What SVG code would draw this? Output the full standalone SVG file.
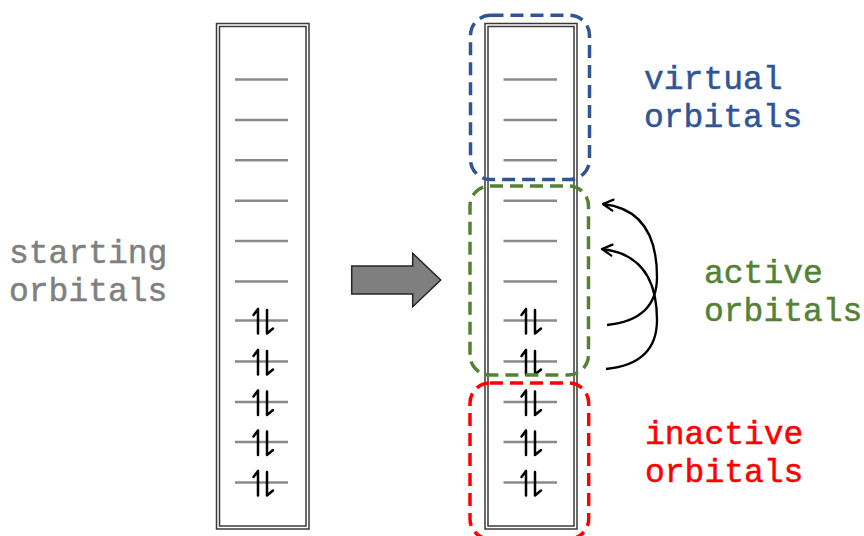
<svg xmlns="http://www.w3.org/2000/svg" xmlns:xlink="http://www.w3.org/1999/xlink" width="864" height="536" viewBox="0 0 864 536">
  <style>
    .frame { fill: none; stroke: #3a3a3a; stroke-width: 1.5; }
    .level { stroke: #8a8a8a; stroke-width: 2.5; }
    .spin { fill: none; stroke: #000; stroke-width: 2.5; stroke-linecap: round; stroke-linejoin: round; }
    .label { font-family: "Liberation Mono", "Courier New", monospace; font-size: 33px; stroke-width: 0.5; }
    .region { fill: none; stroke-width: 3.5; stroke-dasharray: 13 7; }
    .swap { fill: none; stroke: #000; stroke-width: 2.3; }
  </style>
  <defs>
    <!-- one doubly occupied orbital: up and down electron -->
    <g id="pair">
      <path class="spin" d="M-4,-11.5 L-4,13 M-4,-11.5 L-8.5,-5.5"/>
      <path class="spin" d="M5,-10.5 L5,13 M5,13 L11,8"/>
    </g>
    <marker id="open-head" markerUnits="userSpaceOnUse" markerWidth="16" markerHeight="16" viewBox="-12 -8 16 16" refX="0" refY="0" orient="auto">
      <path d="M-10,-5.5 L0,0 L-10,5.5" fill="none" stroke="#000" stroke-width="2.2" stroke-linecap="round" stroke-linejoin="round"/>
    </marker>
  </defs>

  <!-- starting orbitals column -->
  <g id="starting-column">
    <rect class="frame" x="216.5" y="23.5" width="92.5" height="505.5"/>
    <rect class="frame" x="219.5" y="26.5" width="86.5" height="499.5"/>
    <g class="level">
      <line x1="235" y1="79.5" x2="288" y2="79.5"/>
      <line x1="235" y1="119.9" x2="288" y2="119.9"/>
      <line x1="235" y1="160.3" x2="288" y2="160.3"/>
      <line x1="235" y1="200.7" x2="288" y2="200.7"/>
      <line x1="235" y1="241.1" x2="288" y2="241.1"/>
      <line x1="235" y1="281.5" x2="288" y2="281.5"/>
      <line x1="235" y1="320.5" x2="288" y2="320.5"/>
      <line x1="235" y1="361.5" x2="288" y2="361.5"/>
      <line x1="235" y1="402" x2="288" y2="402"/>
      <line x1="235" y1="442" x2="288" y2="442"/>
      <line x1="235" y1="482.5" x2="288" y2="482.5"/>
    </g>
    <use xlink:href="#pair" x="262" y="320.5"/>
    <use xlink:href="#pair" x="262" y="361.5"/>
    <use xlink:href="#pair" x="262" y="402"/>
    <use xlink:href="#pair" x="262" y="442"/>
    <use xlink:href="#pair" x="262" y="482.5"/>
  </g>

  <g id="starting-label">
    <text class="label" x="9" y="263" fill="#808080" stroke="#808080">starting</text>
    <text class="label" x="9" y="301" fill="#808080" stroke="#808080">orbitals</text>
  </g>

  <!-- block arrow -->
  <g id="transform-arrow">
    <polygon points="351.7,266 412.7,266 412.7,253.3 440.7,280 412.7,306.7 412.7,294 351.7,294" fill="#7f7f7f" stroke="#262626" stroke-width="1.5" stroke-linejoin="miter"/>
  </g>

  <!-- partitioned orbitals column -->
  <g id="partitioned-column">
    <rect class="frame" x="485" y="23.5" width="92" height="505.5"/>
    <rect class="frame" x="488" y="26.5" width="86" height="499.5"/>
    <g class="level">
      <line x1="503.5" y1="79.5" x2="557" y2="79.5"/>
      <line x1="503.5" y1="119.9" x2="557" y2="119.9"/>
      <line x1="503.5" y1="160.3" x2="557" y2="160.3"/>
      <line x1="503.5" y1="200.7" x2="557" y2="200.7"/>
      <line x1="503.5" y1="241.1" x2="557" y2="241.1"/>
      <line x1="503.5" y1="281.5" x2="557" y2="281.5"/>
      <line x1="503.5" y1="320.5" x2="557" y2="320.5"/>
      <line x1="503.5" y1="361.5" x2="557" y2="361.5"/>
      <line x1="503.5" y1="402" x2="557" y2="402"/>
      <line x1="503.5" y1="442" x2="557" y2="442"/>
      <line x1="503.5" y1="482.5" x2="557" y2="482.5"/>
    </g>
    <use xlink:href="#pair" x="530" y="320.5"/>
    <use xlink:href="#pair" x="530" y="361.5"/>
    <use xlink:href="#pair" x="530" y="402"/>
    <use xlink:href="#pair" x="530" y="442"/>
    <use xlink:href="#pair" x="530" y="482.5"/>
  </g>

  <!-- orbital spaces -->
  <g id="virtual-space">
    <rect class="region" x="470.5" y="15.3" width="119" height="164.2" rx="20" stroke="#2F5597"/>
    <text class="label" x="644" y="88.5" fill="#2F5597" stroke="#2F5597">virtual</text>
    <text class="label" x="644" y="127" fill="#2F5597" stroke="#2F5597">orbitals</text>
  </g>
  <g id="active-space">
    <rect class="region" x="470" y="186" width="118.5" height="189" rx="20" stroke="#548235"/>
    <text class="label" x="704" y="282.5" fill="#548235" stroke="#548235">active</text>
    <text class="label" x="704" y="320.5" fill="#548235" stroke="#548235">orbitals</text>
  </g>
  <g id="inactive-space">
    <rect class="region" x="470" y="383" width="118.7" height="156" rx="20" stroke="#FF0000"/>
    <text class="label" x="645" y="443.5" fill="#FF0000" stroke="#FF0000">inactive</text>
    <text class="label" x="645" y="482" fill="#FF0000" stroke="#FF0000">orbitals</text>
  </g>

  <!-- excitation connectors -->
  <g id="connectors">
    <path class="swap" d="M607,325 Q657,320 657,277 Q657,210 603,204" marker-end="url(#open-head)"/>
    <path class="swap" d="M606,369 Q657,364 657,320 Q657,255 602,249" marker-end="url(#open-head)"/>
  </g>
</svg>
